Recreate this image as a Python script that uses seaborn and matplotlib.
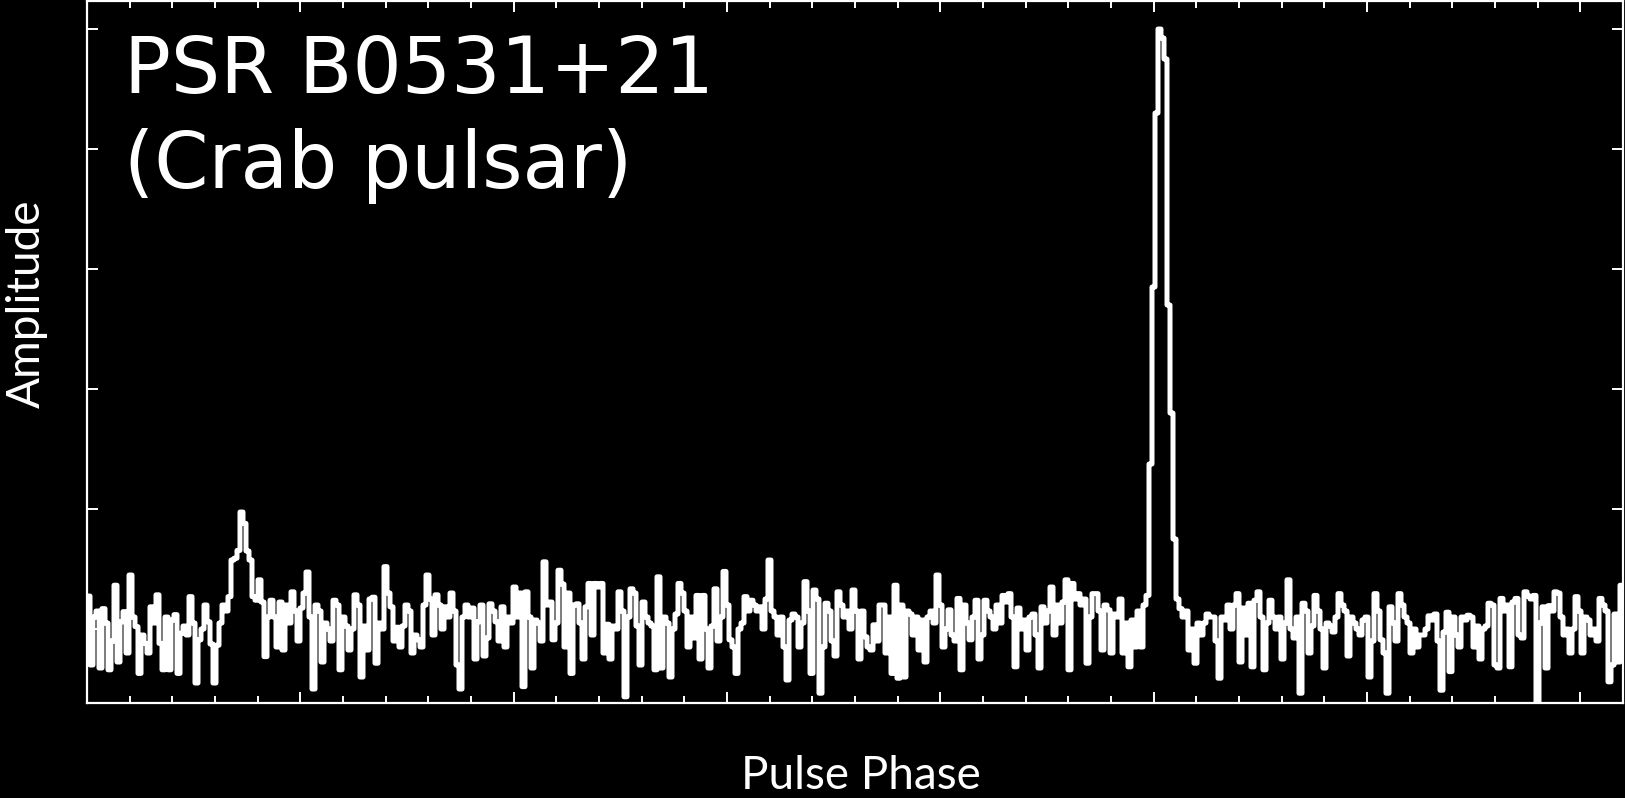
import matplotlib
matplotlib.use("Agg")
import matplotlib.pyplot as plt
from matplotlib.ticker import MultipleLocator, FixedLocator
import numpy as np
import pandas as pd
import seaborn as sns

source_name = "PSR B0531+21"
source_alias = "(Crab pulsar)"
x_label = "Pulse Phase"
y_label = "Amplitude"

# folded profile, 512 bins over one turn, normalised to the main pulse
# (64 bins per list)
profile_a = [
    0.055, -0.060, 0.020, 0.030, -0.065, 0.034, 0.010, -0.068,
    -0.020, 0.073, -0.055, 0.012, 0.029, -0.040, 0.090, 0.020,
    0.004, -0.074, -0.010, -0.024, -0.040, 0.037, 0.010, 0.057,
    -0.024, -0.068, 0.020, -0.068, 0.015, 0.024, -0.074, -0.007,
    0.005, -0.010, 0.054, 0.010, -0.090, -0.018, 0.000, 0.040,
    0.012, -0.025, -0.090, -0.027, 0.010, 0.040, 0.030, 0.054,
    0.115, 0.118, 0.131, 0.195, 0.176, 0.130, 0.115, 0.054,
    0.048, 0.082, 0.045, -0.046, 0.020, 0.048, 0.020, -0.030,
]
profile_b = [
    0.045, -0.035, 0.040, 0.010, 0.062, 0.030, -0.020, 0.035,
    0.060, 0.095, 0.020, -0.100, 0.040, 0.030, -0.055, 0.010,
    0.000, -0.020, 0.048, 0.040, -0.068, 0.020, 0.005, -0.035,
    0.000, 0.057, 0.040, -0.080, 0.005, -0.035, 0.050, 0.053,
    -0.057, 0.010, 0.000, 0.104, 0.060, 0.037, -0.020, 0.003,
    -0.030, 0.005, 0.040, 0.030, -0.040, -0.010, -0.018, -0.030,
    0.040, 0.090, 0.050, -0.010, 0.057, 0.040, 0.000, 0.037,
    0.020, 0.060, 0.030, -0.060, -0.100, 0.020, 0.040, 0.020,
]
profile_c = [
    0.035, -0.050, 0.012, 0.040, -0.045, -0.015, 0.042, 0.030,
    0.012, -0.020, 0.037, -0.030, 0.020, 0.010, 0.070, 0.020,
    0.060, -0.096, 0.062, 0.020, -0.065, 0.015, 0.010, -0.020,
    0.112, 0.040, 0.045, -0.018, 0.010, 0.098, 0.075, -0.030,
    0.060, -0.074, 0.040, 0.042, 0.010, -0.050, 0.037, 0.076,
    -0.010, 0.076, 0.070, 0.076, -0.040, 0.008, -0.050, 0.005,
    0.000, 0.062, 0.030, -0.113, 0.020, 0.067, 0.060, 0.005,
    -0.060, 0.045, 0.020, 0.010, 0.005, -0.068, 0.087, -0.065,
]
profile_d = [
    0.020, 0.010, -0.080, 0.000, 0.025, 0.076, 0.060, 0.030,
    -0.030, 0.020, -0.015, 0.056, -0.050, 0.056, 0.000, -0.065,
    0.005, 0.067, -0.020, 0.020, 0.096, 0.040, -0.018, -0.030,
    -0.074, 0.000, 0.010, 0.054, 0.030, 0.048, 0.040, 0.030,
    0.037, 0.000, 0.050, 0.115, 0.030, 0.020, -0.010, 0.020,
    -0.030, -0.085, 0.015, 0.025, 0.020, -0.030, 0.010, 0.079,
    0.030, -0.074, 0.065, 0.050, -0.107, -0.030, 0.043, 0.030,
    -0.020, -0.045, 0.062, 0.040, 0.020, 0.030, 0.000, 0.065,
]
profile_e = [
    0.030, -0.050, 0.030, -0.013, -0.030, -0.035, 0.007, -0.020,
    0.040, 0.040, -0.040, 0.020, -0.074, 0.073, -0.082, 0.040,
    -0.080, 0.030, 0.025, -0.010, 0.020, -0.035, 0.015, -0.055,
    0.020, 0.030, 0.010, 0.090, 0.040, -0.030, 0.000, 0.032,
    -0.010, -0.020, 0.051, -0.068, 0.040, 0.010, -0.018, 0.020,
    0.048, -0.050, -0.010, 0.048, 0.030, 0.020, 0.000, 0.040,
    0.010, 0.056, 0.045, 0.059, 0.020, -0.063, 0.035, 0.000,
    0.015, -0.035, 0.020, 0.025, -0.010, -0.065, 0.037, 0.010,
]
profile_f = [
    0.030, 0.070, -0.010, 0.040, 0.010, 0.045, 0.082, -0.068,
    0.076, 0.050, 0.059, 0.040, 0.050, -0.057, 0.020, 0.059,
    0.059, 0.030, -0.035, 0.040, 0.032, -0.040, 0.025, 0.020,
    0.050, -0.040, 0.010, -0.063, 0.015, -0.030, 0.030, -0.030,
    0.040, 0.056, 0.275, 0.570, 0.860, 1.000, 0.985, 0.950,
    0.540, 0.360, 0.150, 0.050, 0.034, 0.020, 0.030, -0.035,
    0.000, -0.057, 0.010, -0.010, 0.010, 0.025, 0.020, 0.020,
    -0.020, -0.082, 0.020, 0.015, 0.040, 0.000, 0.040, 0.059,
]
profile_g = [
    -0.055, 0.035, -0.010, 0.043, -0.063, 0.048, 0.062, 0.020,
    -0.068, 0.010, 0.048, 0.020, 0.000, 0.020, -0.050, 0.010,
    0.082, 0.000, -0.015, 0.020, -0.107, 0.043, 0.030, -0.040,
    0.005, 0.056, 0.030, 0.000, -0.065, 0.010, 0.005, -0.005,
    0.020, 0.059, 0.040, 0.030, -0.045, 0.020, 0.010, 0.000,
    -0.010, 0.015, 0.020, -0.080, -0.020, 0.059, 0.030, -0.018,
    -0.040, -0.107, 0.037, 0.010, -0.020, 0.059, 0.040, 0.020,
    0.010, -0.040, 0.000, -0.030, -0.010, -0.010, 0.000, 0.022,
]
profile_h = [
    0.015, 0.025, -0.020, -0.102, -0.005, 0.028, -0.071, 0.020,
    -0.010, -0.030, 0.020, 0.015, 0.023, 0.020, -0.030, 0.005,
    -0.050, 0.000, 0.005, 0.043, 0.040, -0.060, -0.065, 0.051,
    0.030, 0.040, -0.063, 0.045, 0.051, -0.010, -0.015, 0.062,
    0.055, 0.050, 0.056, -0.124, 0.010, 0.037, -0.065, 0.039,
    0.030, 0.062, 0.060, 0.020, -0.010, 0.000, -0.040, 0.000,
    0.054, 0.030, -0.040, 0.020, 0.015, -0.010, 0.000, -0.020,
    0.051, 0.040, 0.030, -0.088, -0.060, 0.025, -0.055, 0.073,
]

amplitude = (profile_a + profile_b + profile_c + profile_d +
             profile_e + profile_f + profile_g + profile_h)
n_bins = len(amplitude)

# bin edges in degrees of phase, last bin closed at 360
phase = np.arange(n_bins + 1) * 360.0 / n_bins
df = pd.DataFrame({"phase": phase, "amp": amplitude + [amplitude[-1]]})

sns.set_style("ticks")
plt.rcParams["font.family"] = ["DejaVu Sans"]

fig = plt.figure(figsize=(16.25, 7.98), dpi=100, facecolor="black")
ax = fig.add_axes([87 / 1625, 1 - 703 / 798, 1536 / 1625, 702 / 798])
ax.set_facecolor("black")

sns.lineplot(data=df, x="phase", y="amp", ax=ax, color="white",
             linewidth=3.6, drawstyle="steps-post", estimator=None,
             sort=False)

ax.set_xlim(0, 360)
ax.set_ylim(-0.1233, 1.0467)
ax.xaxis.set_major_locator(MultipleLocator(50))
ax.xaxis.set_minor_locator(MultipleLocator(10))
ax.yaxis.set_major_locator(FixedLocator([0.0, 0.2, 0.4, 0.6, 0.8, 1.0]))
ax.tick_params(which="both", direction="in", top=True, right=True,
               bottom=True, left=True, colors="white",
               labelbottom=False, labelleft=False)
ax.tick_params(which="major", length=8, width=1.4)
ax.tick_params(which="minor", length=5, width=1.4)
for sp in ax.spines.values():
    sp.set_color("white")
    sp.set_linewidth(1.6)
ax.set_xlabel("")
ax.set_ylabel("")

fig.text(124 / 1625, 1 - 93 / 798, source_name, color="white",
         fontsize=56, ha="left", va="baseline")
fig.text(124 / 1625, 1 - 188 / 798, source_alias, color="white",
         fontsize=56, ha="left", va="baseline")

fig.text(861 / 1625, 1 - 776 / 798, x_label, color="white",
         fontsize=33, family=["Lato", "DejaVu Sans"], weight="normal",
         ha="center", va="center")
fig.text(27 / 1625, 1 - 304 / 798, y_label, color="white",
         fontsize=33, family=["Lato", "DejaVu Sans"], weight="normal",
         rotation=90, ha="center", va="center")

fig.savefig("out.png", dpi=100, facecolor="black")
